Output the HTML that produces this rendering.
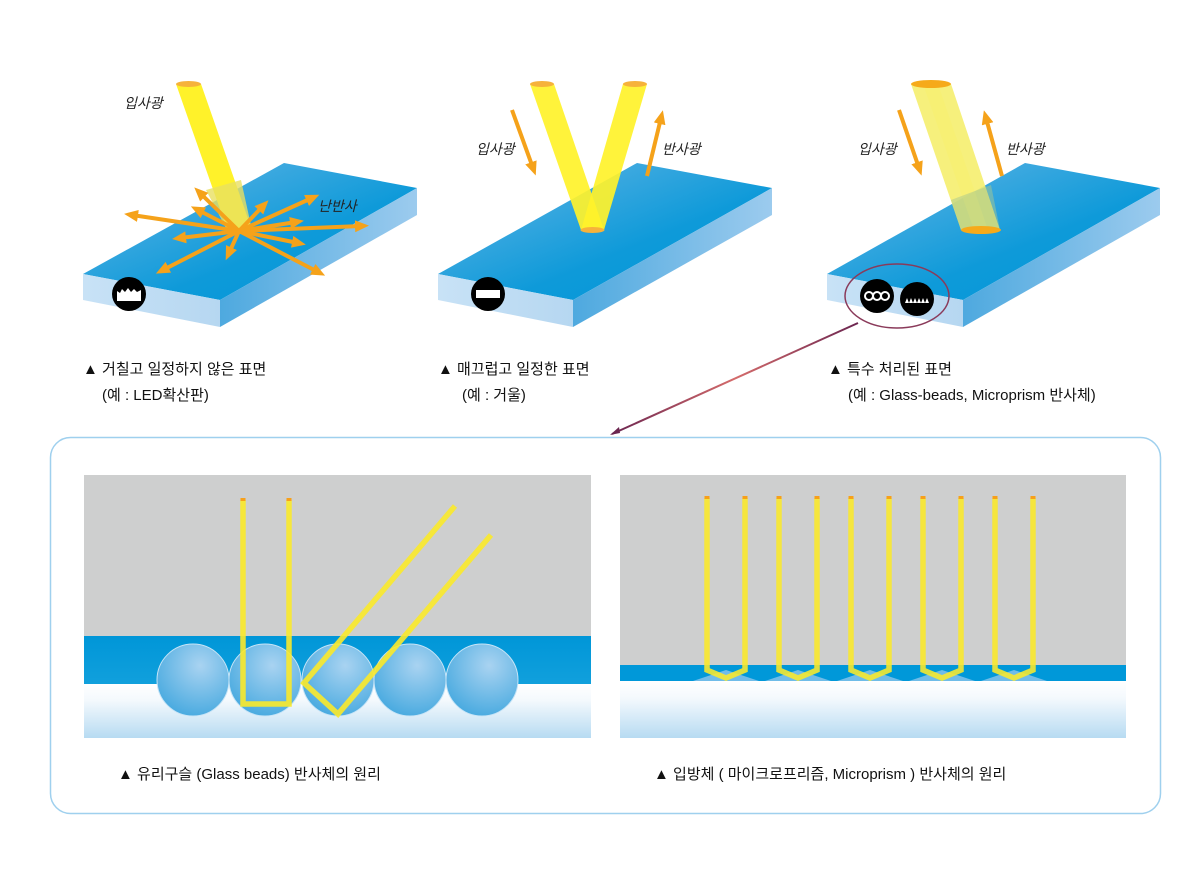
<!DOCTYPE html>
<html><head><meta charset="utf-8"><style>
html,body{margin:0;padding:0;background:#fff;}
svg{display:block;font-family:"Liberation Sans","Noto Sans CJK KR",sans-serif;}
</style></head><body>
<svg width="1200" height="892" viewBox="0 0 1200 892" xmlns="http://www.w3.org/2000/svg">
<defs>
<linearGradient id="top" x1="0" y1="0" x2="1" y2="1"><stop offset="0" stop-color="#6ab7e6"/><stop offset="0.6" stop-color="#0e9ad9"/><stop offset="1" stop-color="#0096d8"/></linearGradient>
<linearGradient id="side" x1="0" y1="0" x2="1" y2="0"><stop offset="0" stop-color="#c8e2f6"/><stop offset="1" stop-color="#b6d7f1"/></linearGradient>
<linearGradient id="rside" x1="0" y1="0" x2="1" y2="0"><stop offset="0" stop-color="#4ea9df"/><stop offset="1" stop-color="#9ccbee"/></linearGradient>
<linearGradient id="fade" x1="0" y1="0" x2="0" y2="1"><stop offset="0" stop-color="#ffffff"/><stop offset="0.3" stop-color="#f4f9fd"/><stop offset="1" stop-color="#b7dbf2"/></linearGradient>
<linearGradient id="band" x1="0" y1="0" x2="0" y2="1"><stop offset="0" stop-color="#0096d8"/><stop offset="1" stop-color="#11a0dc"/></linearGradient>
<radialGradient id="bead" cx="0.6" cy="0.3" r="0.8"><stop offset="0" stop-color="#a9d3f1"/><stop offset="1" stop-color="#3fa6de"/></radialGradient>
<linearGradient id="conn" x1="0" y1="0" x2="1" y2="0"><stop offset="0" stop-color="#6b2550"/><stop offset="0.5" stop-color="#d46b6b"/><stop offset="1" stop-color="#6b2550"/></linearGradient>
<marker id="ah" markerWidth="14" markerHeight="12" refX="6" refY="6" orient="auto" markerUnits="userSpaceOnUse"><path d="M0,0 L14,6 L0,12 z" fill="#f5a21a"/></marker>
</defs>

<polygon points="83,274 284,163 417,188 220,300" fill="url(#top)"/>
<polygon points="83,274 220,300 220,327 83,300" fill="url(#side)"/>
<polygon points="220,300 417,188 417,215 220,327" fill="url(#rside)"/>
<polygon points="176,84 201,84 252,230 228,232" fill="#fff22a"/>
<polygon points="206,190 241,180 252,230 228,232" fill="#e8e060" opacity="0.8"/>
<ellipse cx="188.5" cy="84" rx="12.5" ry="3" fill="#f6b23b"/>
<ellipse cx="240" cy="231" rx="12" ry="3" fill="#f5b050"/>
<g stroke="#f5a21a" stroke-width="4" fill="none" marker-end="url(#ah)">
<line x1="239" y1="231" x2="132" y2="215"/>
<line x1="239" y1="231" x2="361" y2="226"/>
<line x1="239" y1="231" x2="312" y2="198"/>
<line x1="239" y1="231" x2="163" y2="270"/>
<line x1="239" y1="231" x2="318" y2="272"/>
<line x1="239" y1="231" x2="180" y2="238"/>
<line x1="239" y1="231" x2="298" y2="243"/>
<line x1="239" y1="231" x2="296" y2="222"/>
<line x1="239" y1="231" x2="198" y2="210"/>
<line x1="239" y1="231" x2="200" y2="193"/>
<line x1="239" y1="231" x2="229" y2="253"/>
<line x1="239" y1="231" x2="263" y2="206"/>
</g>
<text x="124" y="108" font-size="14" font-style="italic" fill="#222">입사광</text>
<text x="318" y="211" font-size="14" font-style="italic" fill="#222">난반사</text>
<circle cx="129" cy="294" r="17" fill="#000"/>
<path d="M117,301 L117,291 L120,293 L122,289 L125,292 L128,288 L131,292 L134,289 L137,292 L141,290 L141,301 z" fill="#fff"/>

<polygon points="438,274 637,163 772,188 573,300" fill="url(#top)"/>
<polygon points="438,274 573,300 573,327 438,300" fill="url(#side)"/>
<polygon points="573,300 772,188 772,215 573,327" fill="url(#rside)"/>
<polygon points="530,84 554,84 604,230 581,230" fill="#fff22a" opacity="0.92"/>
<polygon points="623,84 647,84 604,230 581,230" fill="#fff22a" opacity="0.92"/>
<ellipse cx="542" cy="84" rx="12" ry="3" fill="#f6b23b"/>
<ellipse cx="635" cy="84" rx="12" ry="3" fill="#f6b23b"/>
<ellipse cx="592.5" cy="230" rx="12" ry="3" fill="#f6b23b"/>
<line x1="512" y1="110" x2="533" y2="168" stroke="#f5a21a" stroke-width="4" marker-end="url(#ah)"/>
<line x1="647" y1="176" x2="661" y2="118" stroke="#f5a21a" stroke-width="4" marker-end="url(#ah)"/>
<text x="476" y="154" font-size="14" font-style="italic" fill="#222">입사광</text>
<text x="662" y="154" font-size="14" font-style="italic" fill="#222">반사광</text>
<circle cx="488" cy="294" r="17" fill="#000"/>
<rect x="476" y="290" width="24" height="8" fill="#fff"/>

<polygon points="827,274 1025,163 1160,188 963,300" fill="url(#top)"/>
<polygon points="827,274 963,300 963,327 827,300" fill="url(#side)"/>
<polygon points="963,300 1160,188 1160,215 963,327" fill="url(#rside)"/>
<polygon points="911,84 951,84 1000,230 961,230" fill="#f5ee6e" opacity="0.9"/>
<polygon points="923,84 938,84 988,230 974,230" fill="#f8f070" opacity="0.6"/>
<polygon points="951,200 991,185 1000,230 961,230" fill="#a8c890" opacity="0.5"/>
<ellipse cx="931" cy="84" rx="20" ry="4" fill="#f6aa1a"/>
<ellipse cx="981" cy="230" rx="20" ry="4" fill="#f6aa1a"/>
<line x1="899" y1="110" x2="919" y2="168" stroke="#f5a21a" stroke-width="4" marker-end="url(#ah)"/>
<line x1="1002" y1="176" x2="986" y2="118" stroke="#f5a21a" stroke-width="4" marker-end="url(#ah)"/>
<text x="858" y="154" font-size="14" font-style="italic" fill="#222">입사광</text>
<text x="1006" y="154" font-size="14" font-style="italic" fill="#222">반사광</text>
<ellipse cx="897" cy="296" rx="52" ry="32" fill="none" stroke="#8a3a5a" stroke-width="1.5"/>
<circle cx="877" cy="296" r="17" fill="#000"/>
<circle cx="869" cy="296" r="4" fill="none" stroke="#fff" stroke-width="2"/>
<circle cx="877" cy="296" r="4" fill="none" stroke="#fff" stroke-width="2"/>
<circle cx="885" cy="296" r="4" fill="none" stroke="#fff" stroke-width="2"/>
<circle cx="917" cy="299" r="17" fill="#000"/>
<path d="M905,303 L907,298 L909,303 L911,298 L913,303 L915,298 L917,303 L919,298 L921,303 L923,298 L925,303 L927,298 L929,303 z" fill="#fff"/>
<line x1="858" y1="323" x2="612" y2="434" stroke="url(#conn)" stroke-width="2"/>
<path d="M610,435 L619,427 L620,433 z" fill="#6b2550"/>

<g font-size="15" fill="#111">
<text x="83" y="374">▲ 거칠고 일정하지 않은 표면</text>
<text x="102" y="400">(예 : LED확산판)</text>
<text x="438" y="374">▲ 매끄럽고 일정한 표면</text>
<text x="462" y="400">(예 : 거울)</text>
<text x="828" y="374">▲ 특수 처리된 표면</text>
<text x="848" y="400">(예 : Glass-beads, Microprism 반사체)</text>
</g>

<rect x="50.5" y="437.5" width="1110" height="376" rx="20" fill="none" stroke="#9fd0ee" stroke-width="1.5"/>

<rect x="84" y="475" width="507" height="162" fill="#cecfcf"/>
<rect x="84" y="636" width="507" height="49" fill="url(#band)"/>
<rect x="84" y="684" width="507" height="54" fill="url(#fade)"/>
<g stroke="#c6e4f7" stroke-width="1">
<circle cx="193" cy="680" r="36" fill="url(#bead)"/>
<circle cx="265" cy="680" r="36" fill="url(#bead)"/>
<circle cx="338" cy="680" r="36" fill="url(#bead)"/>
<circle cx="410" cy="680" r="36" fill="url(#bead)"/>
<circle cx="482" cy="680" r="36" fill="url(#bead)"/>
</g>
<g fill="none" stroke="#fbe92a" stroke-width="5.5" stroke-opacity="0.9" stroke-linejoin="miter">
<polyline points="243,500 243,704 289,704 289,500"/>
<polyline points="455,506 304,683 338,714 491,535"/>
</g>
<g fill="#f7a01a">
<rect x="240.5" y="498" width="5" height="3"/><rect x="286.5" y="498" width="5" height="3"/>
</g>

<rect x="620" y="475" width="506" height="191" fill="#cecfcf"/>
<rect x="620" y="665" width="506" height="16" fill="#0098d9"/>
<rect x="620" y="681" width="506" height="57" fill="url(#fade)"/>
<g fill="#7cc0ea" opacity="0.9">
<polygon points="693,681 726,670 759,681"/>
<polygon points="765,681 798,670 831,681"/>
<polygon points="837,681 870,670 903,681"/>
<polygon points="909,681 942,670 975,681"/>
<polygon points="981,681 1014,670 1047,681"/>
</g>
<g fill="none" stroke="#fbe92a" stroke-width="5.5" stroke-opacity="0.88">
<polyline points="707,498 707,670 726,678 745,670 745,498"/>
<polyline points="779,498 779,670 798,678 817,670 817,498"/>
<polyline points="851,498 851,670 870,678 889,670 889,498"/>
<polyline points="923,498 923,670 942,678 961,670 961,498"/>
<polyline points="995,498 995,670 1014,678 1033,670 1033,498"/>
</g>
<g fill="#f7a01a">
<rect x="704.5" y="496" width="5" height="3"/><rect x="742.5" y="496" width="5" height="3"/>
<rect x="776.5" y="496" width="5" height="3"/><rect x="814.5" y="496" width="5" height="3"/>
<rect x="848.5" y="496" width="5" height="3"/><rect x="886.5" y="496" width="5" height="3"/>
<rect x="920.5" y="496" width="5" height="3"/><rect x="958.5" y="496" width="5" height="3"/>
<rect x="992.5" y="496" width="5" height="3"/><rect x="1030.5" y="496" width="5" height="3"/>
</g>

<g font-size="15" fill="#111">
<text x="118" y="779">▲ 유리구슬 (Glass beads) 반사체의 원리</text>
<text x="654" y="779">▲ 입방체 ( 마이크로프리즘, Microprism ) 반사체의 원리</text>
</g>
</svg>
</body></html>
